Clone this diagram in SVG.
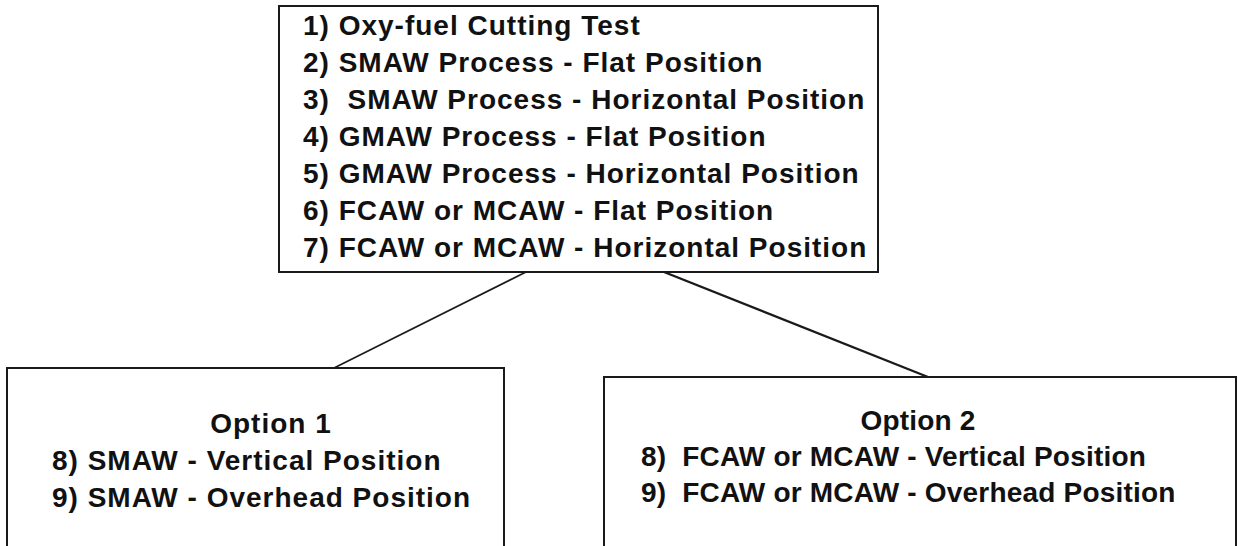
<svg xmlns="http://www.w3.org/2000/svg" width="1238" height="546" viewBox="0 0 1238 546">
<style>
.box{fill:#fff;stroke:#1a1a1a;stroke-width:2}
.t{font-family:"Liberation Sans",Arial,sans-serif;font-weight:bold;font-size:28px;fill:#111;letter-spacing:1px;white-space:pre}
.r{letter-spacing:0.2px}
.c{stroke:#1a1a1a;fill:none}
</style>
<rect width="1238" height="546" fill="#fff"/>
<g id="connectors">
<line class="c" x1="526" y1="272" x2="334" y2="368" stroke-width="1.6"/>
<line class="c" x1="664" y1="272" x2="928" y2="377" stroke-width="2.4"/>
</g>
<g id="top">
<rect class="box" x="279" y="6" width="599" height="266"/>
<text class="t" x="303" y="35">1) Oxy-fuel Cutting Test</text>
<text class="t" x="303" y="72">2) SMAW Process - Flat Position</text>
<text class="t" x="303" y="109" xml:space="preserve">3)  SMAW Process - Horizontal Position</text>
<text class="t" x="303" y="146">4) GMAW Process - Flat Position</text>
<text class="t" x="303" y="183">5) GMAW Process - Horizontal Position</text>
<text class="t" x="303" y="220">6) FCAW or MCAW - Flat Position</text>
<text class="t" x="303" y="257">7) FCAW or MCAW - Horizontal Position</text>
</g>
<g id="option1">
<rect class="box" x="7" y="368" width="497" height="200"/>
<text class="t" x="271" y="433" text-anchor="middle">Option 1</text>
<text class="t" x="52" y="470">8) SMAW - Vertical Position</text>
<text class="t" x="52" y="507">9) SMAW - Overhead Position</text>
</g>
<g id="option2">
<rect class="box" x="604" y="377" width="632" height="200"/>
<text class="t r" x="918" y="430" text-anchor="middle">Option 2</text>
<text class="t r" x="641" y="466" xml:space="preserve">8)  FCAW or MCAW - Vertical Position</text>
<text class="t r" x="641" y="502" xml:space="preserve">9)  FCAW or MCAW - Overhead Position</text>
</g>
</svg>
